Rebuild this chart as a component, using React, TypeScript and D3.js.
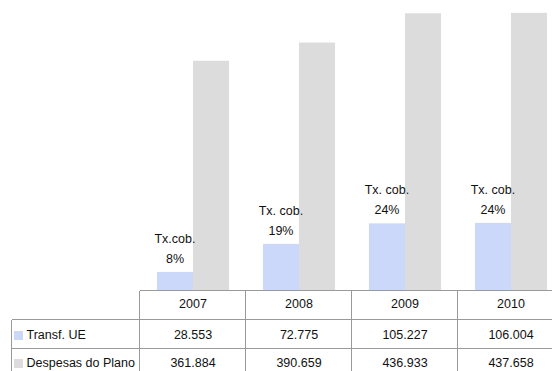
import React from "react";
import * as d3 from "d3";

// Data
const years = ["2007", "2008", "2009", "2010"];
const transfUE = [28.553, 72.775, 105.227, 106.004];
const despesasPlano = [361.884, 390.659, 436.933, 437.658];
const transfLabels = ["28.553", "72.775", "105.227", "106.004"];
const despesasLabels = ["361.884", "390.659", "436.933", "437.658"];
const rateTitles = ["Tx.cob.", "Tx. cob.", "Tx. cob.", "Tx. cob."];
const rateValues = ["8%", "19%", "24%", "24%"];
const seriesNames = ["Transf. UE", "Despesas do Plano"];
const seriesColors = ["#ccd8fa", "#dcdcdc"];

const W = 552;
const H = 371;
const FONT = "'Liberation Sans', Arial, sans-serif";

export default function App() {
  const x = d3
    .scaleBand<string>()
    .domain(years)
    .range([140, 564])
    .paddingInner(0.32)
    .paddingOuter(0.16);
  const xSub = d3
    .scaleBand<string>()
    .domain(seriesNames)
    .range([0, x.bandwidth()]);
  const y = d3.scaleLinear().domain([0, 450]).range([290, 5]);

  const series = [transfUE, despesasPlano];
  const rowLabels = [transfLabels, despesasLabels];

  const colEdges = years.map((yr) => x(yr)! - (x.step() - x.bandwidth()) / 2);
  colEdges.push(564);

  const rowTop = [290, 319, 348];
  const rowBase = [307.5, 339, 367];
  const lineColor = "#9a9a9a";

  return (
    <svg
      width={W}
      height={H}
      style={{ position: "absolute", left: 0, top: 0, background: "#fff" }}
      fontFamily={FONT}
    >
      <rect width={W} height={H} fill="#fff" />
      {/* bars */}
      {years.map((yr, i) => (
        <g key={yr} transform={`translate(${x(yr)},0)`}>
          {series.map((s, j) => (
            <rect
              key={j}
              x={xSub(seriesNames[j])}
              y={y(s[i])}
              width={xSub.bandwidth()}
              height={y(0) - y(s[i])}
              fill={seriesColors[j]}
            />
          ))}
        </g>
      ))}
      {/* coverage-rate labels above the EU transfer bars */}
      {years.map((yr, i) => {
        const cx = x(yr)! + xSub(seriesNames[0])! + xSub.bandwidth() / 2;
        const top = y(transfUE[i]);
        return (
          <g key={yr} fontSize={12.5} fill="#111" textAnchor="middle">
            <text x={cx} y={top - 29}>
              {rateTitles[i]}
            </text>
            <text x={cx} y={top - 9}>
              {rateValues[i]}
            </text>
          </g>
        );
      })}
      {/* data table */}
      <g stroke={lineColor} strokeWidth={1} shapeRendering="crispEdges">
        <line x1={139.5} x2={W} y1={290.5} y2={290.5} />
        <line x1={11.5} x2={W} y1={319.5} y2={319.5} />
        <line x1={11.5} x2={W} y1={348.5} y2={348.5} />
        <line x1={11.5} x2={11.5} y1={319.5} y2={H} />
        {colEdges.slice(0, 4).map((cx, i) => (
          <line key={i} x1={cx - 0.5} x2={cx - 0.5} y1={290.5} y2={H} />
        ))}
      </g>
      <g fontSize={12.5} fill="#111" textAnchor="middle">
        {years.map((yr) => (
          <text key={yr} x={x(yr)! + x.bandwidth() / 2} y={rowBase[0]}>
            {yr}
          </text>
        ))}
        {rowLabels.map((labels, r) =>
          years.map((yr, i) => (
            <text key={`${r}-${yr}`} x={x(yr)! + x.bandwidth() / 2} y={rowBase[r + 1]}>
              {labels[i]}
            </text>
          ))
        )}
      </g>
      {seriesNames.map((name, r) => (
        <g key={name}>
          <rect x={14} y={rowBase[r + 1] - 8} width={9} height={9} fill={seriesColors[r]} />
          <text x={26.5} y={rowBase[r + 1]} fontSize={12.5} fill="#111">
            {name}
          </text>
        </g>
      ))}
    </svg>
  );
}
